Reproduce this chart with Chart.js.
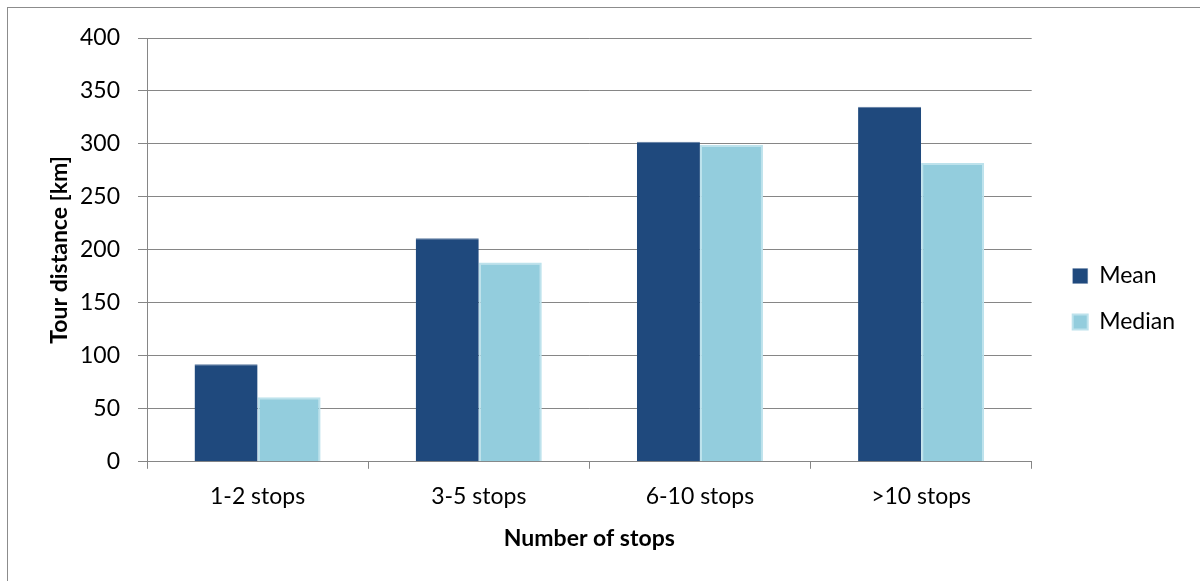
<!DOCTYPE html>
<html lang="en">
<head>
    <meta charset="UTF-8">
    <title>Tour distance by number of stops</title>
    <style>
        body {
            margin: 0;
            background-color: #fff;
        }

        #wrap {
            width: 1200px;
            height: 581px;
        }
    </style>
    <script src="https://cdn.jsdelivr.net/npm/chart.js"></script>
</head>
<body>
    <div id="wrap">
        <canvas id="tourChart" width="1200" height="581"></canvas>
    </div>

    <script>
        const categories = ["1-2 stops", "3-5 stops", "6-10 stops", ">10 stops"];
        const meanKm = [92, 211, 302, 335];
        const medianKm = [61, 188, 299, 282];
        const yTicks = [0, 50, 100, 150, 200, 250, 300, 350, 400];

        const gridColor = "#868686";
        const fontFamily = "Lato, 'Open Sans', sans-serif";

        // marco gris alrededor de todo el gráfico
        const marco = {
            id: "marco",
            beforeDraw(chart) {
                const ctx = chart.ctx;
                ctx.save();
                ctx.strokeStyle = "#8c8c8c";
                ctx.lineWidth = 1;
                ctx.strokeRect(7.5, 7.5, 1400, 800);
                ctx.restore();
            }
        };

        // separa un poco la leyenda del área del gráfico
        const moverLeyenda = {
            id: "moverLeyenda",
            afterLayout(chart) {
                const lg = chart.legend;
                lg.left += 18;
                lg.right += 18;
                lg.top += 4;
                lg.bottom += 4;
            }
        };

        const ctx = document.getElementById("tourChart").getContext("2d");

        new Chart(ctx, {
            type: "bar",
            data: {
                labels: categories,
                datasets: [
                    {
                        label: "Mean",
                        data: meanKm,
                        backgroundColor: "#1f497d",
                        borderColor: "#5d7aa0",
                        borderWidth: { top: 1, left: 0, right: 0, bottom: 0 },
                        categoryPercentage: 0.57,
                        barPercentage: 1.0
                    },
                    {
                        label: "Median",
                        data: medianKm,
                        backgroundColor: "#93cddd",
                        borderColor: "#bde2ec",
                        borderWidth: 2,
                        categoryPercentage: 0.57,
                        barPercentage: 1.0
                    }
                ]
            },
            options: {
                responsive: false,
                animation: false,
                layout: {
                    padding: { left: 46, right: 33, top: 38, bottom: 29 }
                },
                plugins: {
                    legend: {
                        position: "right",
                        labels: {
                            boxWidth: 15,
                            boxHeight: 15,
                            padding: 23,
                            color: "#000",
                            font: { family: fontFamily, size: 23 }
                        }
                    },
                    tooltip: { enabled: false }
                },
                scales: {
                    x: {
                        grid: {
                            offset: true,
                            drawOnChartArea: false,
                            tickLength: 7,
                            color: gridColor
                        },
                        border: { color: gridColor, width: 1 },
                        ticks: {
                            color: "#000",
                            padding: 14,
                            font: { family: fontFamily, size: 23 }
                        },
                        title: {
                            display: true,
                            text: "Number of stops",
                            color: "#000",
                            padding: { top: 0, bottom: 0 },
                            font: { family: fontFamily, size: 23, weight: "bold" }
                        }
                    },
                    y: {
                        min: 0,
                        max: 400,
                        afterBuildTicks(scale) {
                            scale.ticks = yTicks.map(v => ({ value: v }));
                        },
                        // ancho fijo del eje para que empiece en x = 147
                        afterFit(scale) {
                            scale.width = 101;
                        },
                        grid: {
                            tickLength: 9,
                            color: gridColor
                        },
                        border: { color: gridColor, width: 1 },
                        ticks: {
                            color: "#000",
                            padding: 18,
                            font: { family: fontFamily, size: 23 }
                        },
                        title: {
                            display: true,
                            text: "Tour distance [km]",
                            color: "#000",
                            padding: { top: 0, bottom: 8 },
                            font: { family: fontFamily, size: 23, weight: "bold" }
                        }
                    }
                }
            },
            plugins: [marco, moverLeyenda]
        });
    </script>
</body>
</html>
